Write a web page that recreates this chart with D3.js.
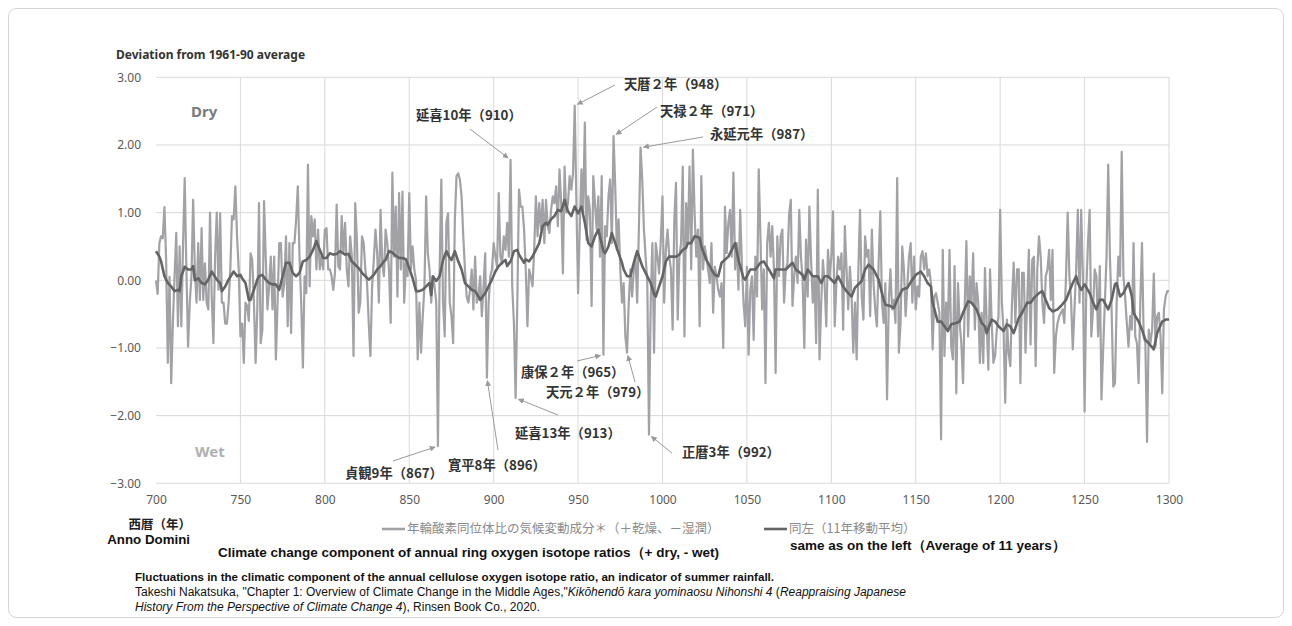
<!DOCTYPE html>
<html>
<head>
<meta charset="utf-8">
<script src="https://cdn.jsdelivr.net/npm/d3@7"></script>
<style>
  body { margin: 0; background: #ffffff; }
</style>
</head>
<body>
<div id="wrapper"></div>
<script>
// annual values, one per year from 700 to 1300
const startYear = 700;
const ringValues = [
  0.0, -0.2, 0.55, 0.65, 0.62, 1.08, 0.3, -1.22, 0.05, -1.52,      // 700
  -0.63, 0.06, 0.7, -0.68, 0.5, -0.68, 0.5, 1.51, 0.15, -0.98,     // 710
  -0.33, 0.06, 1.19, 0.16, -0.33, 0.55, -0.29, 0.77, -0.29, 0.25,  // 720
  -0.33, -0.43, 1.0, -0.24, -0.93, 0.35, 1.0, -0.14, 0.99, -0.33,  // 730
  -0.33, -0.64, -0.64, -0.33, 0.16, 0.95, 0.9, 1.39, 0.65, 0.16,   // 740
  -0.83, -0.64, -1.22, -0.33, -0.38, -0.6, 0.4, 0.3, -0.33, -1.22, // 750
  -0.43, 1.14, -0.93, -0.73, 1.17, 0.35, -0.43, -0.09, 0.35, -0.43,// 760
  0.35, -1.17, -0.33, 0.55, 0.55, -0.24, -0.04, 0.65, -0.68, 0.55, // 770
  -0.78, 0.55, 0.55, 0.9, 1.39, 0.35, -0.33, -1.29, 0.06, -0.19,   // 780
  1.71, -0.09, 0.95, 0.65, 0.9, 0.16, 0.75, 0.16, 0.35, 0.16,      // 790
  0.75, 0.77, 0.16, 0.16, 0.06, -0.14, 0.11, 1.12, 0.2, 0.16,      // 800
  0.95, 0.4, 0.85, 0.16, -0.09, 0.65, 0.35, -1.12, 1.14, 0.6,      // 810
  -0.48, -0.33, 0.65, 0.55, 0.16, -0.04, -0.63, -1.12, -0.09, 0.3, // 820
  0.75, 0.4, -0.33, 1.04, 0.25, 0.06, 0.75, 0.55, 0.16, -0.63,     // 830
  1.59, 0.35, 1.09, -0.24, 1.29, 0.16, 1.31, -0.33, 0.25, 0.06,    // 840
  1.29, 0.16, 0.5, 0.16, 0.0, -1.17, -0.33, -1.07, -0.53, -0.09,   // 850
  1.24, 0.4, 0.16, -0.33, 0.06, -0.09, -0.33, -2.45, 0.16, 1.49,   // 860
  -0.33, -0.83, 0.85, 0.99, -0.33, -0.53, -0.93, 0.9, 1.54, 1.58,  // 870
  1.49, 1.24, 0.65, 0.16, -0.24, -0.33, -0.14, 0.16, -0.43, 0.35,  // 880
  -0.33, -0.24, 0.06, -0.53, -0.09, 0.4, -1.44, -0.33, 0.06, 0.16, // 890
  0.55, 0.35, 0.2, 1.29, 0.35, 0.25, 0.65, 0.45, 0.85, 0.35,       // 900
  1.78, -0.09, -0.63, -1.74, -0.33, 1.34, 1.09, 1.09, 0.75, 0.16,  // 910
  -0.68, 0.16, 0.06, -0.09, 0.45, 1.24, 0.65, 1.14, 0.75, 1.19,    // 920
  0.55, 1.19, 0.8, 0.7, 1.04, 1.24, 1.14, 1.39, 0.8, 1.64,         // 930
  1.14, 0.1, 1.68, 1.0, 1.14, 1.54, 1.34, 1.58, 2.58, 1.14,        // 940
  -0.19, 0.8, 1.64, 1.0, 2.33, 0.6, 1.24, 1.04, -0.38, 1.54,       // 950
  1.14, 0.75, 1.24, 0.35, 1.54, -1.1, 0.8, 0.65, 1.24, 1.49,       // 960
  0.55, 2.13, 1.39, 0.45, 0.9, 0.16, -0.33, -0.04, -0.83, -1.07,   // 970
  -0.33, 0.16, -0.24, 0.16, 0.35, -0.33, 0.75, 1.96, 1.49, 0.75,   // 980
  0.35, -0.04, -2.28, -0.33, 0.55, -1.07, 0.55, 0.35, 0.1, 0.6,    // 990
  1.24, -0.33, 0.45, 0.75, 0.35, 0.16, -0.73, 0.9, 1.44, -0.58,    // 1000
  0.35, 0.55, 1.68, -0.83, 1.14, 0.55, 1.68, 0.16, 1.93, 1.0,      // 1010
  0.35, 0.75, -0.68, 1.54, 0.16, 0.5, 0.35, 0.16, -0.04, 0.55,     // 1020
  -0.48, 0.2, 0.06, -0.14, -0.24, -0.04, -1.0, 1.09, 0.4, 0.85,    // 1030
  1.04, 0.35, 1.59, 0.16, 0.55, -0.14, 1.04, 0.25, -0.33, -0.68,   // 1040
  0.2, -1.1, -0.14, 0.06, -0.88, 0.35, -0.24, 1.64, 0.65, -0.43,   // 1050
  0.16, -1.52, 0.55, 0.85, 0.35, 0.8, 0.16, -1.37, 0.65, 0.06,     // 1060
  0.65, 0.75, -0.33, 0.16, 0.25, 0.99, 1.19, -0.38, 0.06, 0.35,    // 1070
  -0.04, 1.04, 0.35, 0.0, -1.0, 0.6, -0.24, 1.09, 0.3, -0.33,      // 1080
  0.06, -0.93, 1.34, -1.17, -0.33, 0.3, -0.04, -0.68, 0.45, 0.06,  // 1090
  0.35, 1.02, -0.68, -0.04, 0.35, 0.16, 0.4, -0.73, 0.8, 0.16,     // 1100
  -0.43, 0.2, -0.24, -1.07, -0.33, -1.17, 0.16, 1.04, -0.24, -0.58,// 1110
  0.65, 0.35, 0.45, -0.53, 0.75, -0.04, -0.43, -0.68, 0.25, 1.02,  // 1120
  -0.33, -0.63, -0.04, -1.76, -0.33, 0.16, -0.43, -0.29, -0.63, 1.51, // 1130
  -1.07, -0.63, 0.5, 0.16, -0.53, -0.09, 0.35, 0.55, -0.33, 0.35,  // 1140
  -0.43, -0.09, -0.24, 0.35, 0.43, 0.16, 0.4, 0.06, 0.16, -0.04,   // 1150
  -1.02, -0.24, -0.19, -0.33, -0.48, -2.35, 0.45, -1.12, -0.33, -0.73, // 1160
  0.45, -0.98, -1.17, 0.21, -1.67, -0.04, -0.63, -0.93, -1.52, -0.38,  // 1170
  0.58, -0.83, 0.06, -0.33, 0.4, -0.73, -0.04, -0.33, -1.22, -0.48,    // 1180
  -1.22, 0.18, -0.63, -1.32, 0.16, -0.63, -1.22, -1.12, -0.73, -0.53,  // 1190
  1.04, -0.33, -0.73, -1.81, -0.58, -1.07, -1.27, -0.33, 0.26, -0.63,  // 1200
  0.16, 0.16, -1.52, 0.11, 0.11, -1.07, -0.33, 0.45, -0.95, 0.3,       // 1210
  0.35, -1.27, 0.16, 0.65, 0.35, -0.33, -0.63, 0.06, 0.16, 0.45,       // 1220
  -0.29, 0.45, -1.37, -0.83, -0.63, -0.53, -0.48, -0.43, -0.63, 0.06,  // 1230
  1.0, 0.06, -0.29, -1.02, -0.43, 0.16, 1.04, -0.33, 1.04, 0.06,       // 1240
  -1.94, -0.14, 0.55, 1.04, -0.83, -0.43, 0.16, 0.06, -0.83, 0.21,     // 1250
  -1.76, -1.02, -0.33, 0.35, 1.71, 0.35, -0.43, -1.57, -1.52, -0.33,   // 1260
  0.35, 0.06, 1.9, 0.06, -0.24, -0.63, -0.98, -0.53, -0.73, 0.55,      // 1270
  -0.83, -0.93, -1.52, -0.33, 0.55, -0.83, -0.93, -2.39, -0.73, -0.93, // 1280
  -0.73, 0.1, -0.98, -0.53, -0.48, -0.83, -1.67, -0.43, -0.24, -0.16,  // 1290
  -0.16                                                                // 1300
];

// 11-year moving average: [year, value]
const movingAverage = [
  [700, 0.43], [702, 0.35], [703, 0.28], [705, 0.06], [707, -0.04], [709, -0.09],
  [711, -0.16], [713, -0.14], [714, -0.16], [715, 0.06], [717, 0.2], [719, 0.16],
  [721, 0.16], [722, 0.21], [723, 0.0], [725, 0.03], [727, -0.04], [729, -0.06],
  [731, 0.01], [733, 0.13], [736, 0.01], [738, -0.04], [739, -0.16], [741, -0.09],
  [743, 0.01], [746, 0.13], [748, 0.06], [750, 0.08], [751, 0.03], [753, -0.04],
  [755, -0.29], [756, -0.29], [757, -0.21], [758, -0.14], [760, 0.01], [761, 0.06],
  [763, 0.08], [765, 0.01], [767, -0.04], [769, -0.06], [771, -0.06], [773, -0.14],
  [775, 0.06], [777, 0.26], [779, 0.26], [781, 0.11], [783, 0.06], [785, 0.11],
  [787, 0.28], [789, 0.3], [791, 0.35], [793, 0.45], [795, 0.58], [797, 0.45],
  [799, 0.33], [801, 0.33], [803, 0.4], [805, 0.38], [807, 0.39], [809, 0.43],
  [812, 0.38], [814, 0.39], [816, 0.28], [818, 0.23], [820, 0.18], [822, 0.11],
  [824, 0.06], [826, 0.01], [827, 0.03], [829, 0.08], [831, 0.16], [833, 0.21],
  [835, 0.28], [836, 0.3], [838, 0.43], [840, 0.41], [842, 0.36], [844, 0.33],
  [846, 0.33], [848, 0.31], [850, 0.18], [852, 0.03], [854, -0.16], [856, -0.16],
  [858, -0.14], [860, -0.09], [862, -0.04], [863, -0.22], [864, 0.06], [866, -0.01],
  [868, 0.06], [870, 0.3], [872, 0.43], [874, 0.33], [875, 0.3], [877, 0.43],
  [879, 0.28], [881, 0.16], [883, -0.04], [885, -0.09], [887, -0.14], [889, -0.16],
  [891, -0.24], [892, -0.29], [895, -0.19], [897, -0.09], [899, 0.01], [901, 0.13],
  [903, 0.21], [905, 0.26], [907, 0.3], [908, 0.21], [910, 0.28], [911, 0.35],
  [912, 0.43], [914, 0.45], [915, 0.38], [918, 0.26], [919, 0.31], [921, 0.28],
  [923, 0.35], [925, 0.45], [927, 0.55], [929, 0.8], [931, 0.85], [932, 0.82],
  [934, 0.9], [936, 0.95], [938, 1.04], [940, 1.02], [942, 1.19], [944, 1.02],
  [946, 0.95], [948, 1.09], [950, 0.99], [952, 1.09], [954, 0.85], [956, 0.55],
  [958, 0.5], [960, 0.65], [962, 0.75], [965, 0.43], [966, 0.4], [968, 0.5],
  [970, 0.7], [972, 0.55], [974, 0.4], [976, 0.26], [977, 0.16], [979, 0.06],
  [981, 0.06], [983, 0.26], [985, 0.43], [988, 0.21], [990, 0.11], [993, -0.04],
  [995, -0.2], [996, -0.24], [998, -0.09], [1000, 0.06], [1002, 0.28], [1004, 0.35],
  [1008, 0.35], [1010, 0.38], [1012, 0.45], [1014, 0.48], [1015, 0.55], [1017, 0.55],
  [1019, 0.65], [1022, 0.63], [1023, 0.5], [1026, 0.3], [1029, 0.16], [1031, 0.08],
  [1033, 0.06], [1035, 0.26], [1039, 0.35], [1043, 0.55], [1045, 0.3], [1048, 0.03],
  [1049, 0.01], [1052, 0.16], [1055, 0.16], [1058, 0.26], [1060, 0.28], [1063, 0.16],
  [1066, 0.03], [1067, 0.16], [1070, 0.16], [1073, 0.16], [1077, 0.26], [1079, 0.16],
  [1083, 0.08], [1084, 0.01], [1086, 0.16], [1089, 0.06], [1092, 0.06], [1094, -0.04],
  [1096, 0.06], [1098, 0.06], [1102, -0.04], [1104, 0.06], [1107, -0.09], [1109, -0.16],
  [1112, -0.24], [1114, -0.11], [1118, -0.01], [1120, 0.16], [1122, 0.23], [1125, 0.16],
  [1128, 0.01], [1131, -0.29], [1132, -0.36], [1135, -0.38], [1137, -0.41], [1139, -0.29],
  [1142, -0.14], [1145, -0.11], [1148, 0.01], [1150, 0.08], [1153, 0.13], [1155, 0.06],
  [1157, -0.04], [1159, -0.09], [1160, -0.33], [1163, -0.61], [1165, -0.61], [1167, -0.68],
  [1169, -0.75], [1171, -0.65], [1174, -0.63], [1176, -0.61], [1178, -0.48], [1181, -0.31],
  [1183, -0.33], [1186, -0.43], [1189, -0.63], [1191, -0.68], [1192, -0.78], [1195, -0.58],
  [1197, -0.61], [1199, -0.68], [1202, -0.75], [1204, -0.65], [1206, -0.68], [1208, -0.78],
  [1211, -0.56], [1213, -0.48], [1216, -0.33], [1218, -0.33], [1220, -0.26], [1223, -0.19],
  [1225, -0.16], [1227, -0.29], [1229, -0.41], [1231, -0.46], [1234, -0.43], [1236, -0.38],
  [1239, -0.29], [1241, -0.16], [1243, -0.04], [1245, 0.06], [1246, -0.04], [1248, -0.14],
  [1250, -0.06], [1253, -0.19], [1255, -0.33], [1257, -0.43], [1259, -0.29], [1261, -0.29],
  [1264, -0.43], [1266, -0.29], [1268, -0.06], [1269, -0.04], [1271, -0.24], [1273, -0.19],
  [1276, -0.04], [1278, -0.24], [1279, -0.48], [1282, -0.61], [1284, -0.73], [1286, -0.88],
  [1288, -0.93], [1291, -1.02], [1293, -0.78], [1296, -0.61], [1298, -0.58], [1300, -0.58]
];

const yTicks = [-3, -2, -1, 0, 1, 2, 3];
const xTicks = [700, 750, 800, 850, 900, 950, 1000, 1050, 1100, 1150, 1200, 1250, 1300];

// annotated years
const noteYears = [948, 971, 987, 910, 867, 896, 913, 965, 979, 992];
const noteLabels = ["天暦２年（948）", "天禄２年（971）", "永延元年（987）", "延喜10年（910）", "貞観9年（867）",
  "寛平8年（896）", "延喜13年（913）", "康保２年（965）", "天元２年（979）", "正暦3年（992）"];

// where each label sits and where its arrow starts
const noteLayout = [
  {tx: 624, ty: 89, ax: 615, ay: 85},
  {tx: 660, ty: 116, ax: 657, ay: 107},
  {tx: 710, ty: 139, ax: 703, ay: 137},
  {tx: 416, ty: 120, ax: 470, ay: 129},
  {tx: 345, ty: 478, ax: 393, ay: 461},
  {tx: 448, ty: 470, ax: 498, ay: 450},
  {tx: 515, ty: 438, ax: 558, ay: 415},
  {tx: 521, ty: 377, ax: 577, ay: 361},
  {tx: 546, ty: 397, ax: 635, ay: 382},
  {tx: 682, ty: 457, ax: 672, ay: 453}
];

dimensions = {
  width: 1292,
  height: 626,
  plot: {left: 156, right: 1169, top: 77.3, bottom: 483.3}
};

const cjk = "'Noto Sans CJK JP', 'Noto Sans', sans-serif";
const latin = "'Liberation Sans', Arial, sans-serif";

wrapper = d3.select("#wrapper").append("svg")
  .attr("width", dimensions.width)
  .attr("height", dimensions.height);

// outer frame
wrapper.append("rect")
  .attr("x", 8.5).attr("y", 8.5)
  .attr("width", 1275).attr("height", 609)
  .attr("rx", 8)
  .attr("fill", "#ffffff")
  .attr("stroke", "#d4d4d4");

const defs = wrapper.append("defs");
defs.append("marker")
  .attr("id", "arrow")
  .attr("viewBox", "0 0 10 10")
  .attr("refX", 9).attr("refY", 5)
  .attr("markerWidth", 6).attr("markerHeight", 6)
  .attr("orient", "auto")
  .append("path")
  .attr("d", "M0,0 L10,5 L0,10 z")
  .attr("fill", "#9a9a9a");

container = wrapper.append("g");

const p = dimensions.plot;
const xScale = d3.scaleLinear().domain([700, 1300]).range([p.left, p.right]);
const yScale = d3.scaleLinear().domain([-3, 3]).range([p.bottom, p.top]);

// grid lines
container.append("g").selectAll("line")
  .data(yTicks)
  .enter().append("line")
  .attr("x1", p.left).attr("x2", p.right)
  .attr("y1", d => yScale(d)).attr("y2", d => yScale(d))
  .attr("stroke", "#d9d9d9").attr("stroke-width", 1);

container.append("g").selectAll("line")
  .data(xTicks.slice(1))
  .enter().append("line")
  .attr("x1", d => xScale(d)).attr("x2", d => xScale(d))
  .attr("y1", p.top).attr("y2", p.bottom)
  .attr("stroke", "#d9d9d9").attr("stroke-width", 1);

// axes
const axisY = container.append("g")
  .attr("transform", `translate(${p.left}, 0)`)
  .call(d3.axisLeft(yScale).tickValues(yTicks).tickFormat(d3.format(".2f")).tickSize(0).tickPadding(15));
const axisX = container.append("g")
  .attr("transform", `translate(0, ${p.bottom})`)
  .call(d3.axisBottom(xScale).tickValues(xTicks).tickFormat(d3.format("d")).tickSize(0).tickPadding(12));
[axisX, axisY].forEach(a => {
  a.select(".domain").remove();
  a.selectAll("text")
    .attr("fill", "#595959")
    .style("font-family", "'Noto Sans', sans-serif")
    .style("font-size", "12px");
});

// annual series
const annual = ringValues.map((v, i) => [startYear + i, v]);
const line = d3.line().x(d => xScale(d[0])).y(d => yScale(d[1]));

container.append("path")
  .datum(annual)
  .attr("fill", "none")
  .attr("stroke", "#a2a2a6")
  .attr("stroke-width", 2.2)
  .attr("stroke-linejoin", "round")
  .attr("d", line);

// moving average
container.append("path")
  .datum(movingAverage)
  .attr("fill", "none")
  .attr("stroke", "#646464")
  .attr("stroke-width", 2.6)
  .attr("stroke-linejoin", "round")
  .attr("d", line);

// Dry / Wet
container.append("text").attr("x", 191).attr("y", 117)
  .style("font-family", "'Noto Sans', sans-serif").style("font-size", "15px").style("font-weight", "bold")
  .attr("fill", "#7a7a7a").text("Dry");
container.append("text").attr("x", 195).attr("y", 457)
  .style("font-family", "'Noto Sans', sans-serif").style("font-size", "15px").style("font-weight", "bold")
  .attr("fill", "#b0b0b0").text("Wet");

// title
container.append("text").attr("x", 116).attr("y", 59)
  .style("font-family", "'Noto Sans', sans-serif").style("font-size", "12px").style("font-weight", "bold")
  .attr("fill", "#333333").text("Deviation from 1961-90 average");

// annotations
noteYears.forEach((yr, i) => {
  const lay = noteLayout[i];
  const px = xScale(yr), py = yScale(ringValues[yr - startYear]);
  const dx = lay.ax - px, dy = lay.ay - py;
  const len = Math.sqrt(dx * dx + dy * dy);
  container.append("line")
    .attr("x1", lay.ax).attr("y1", lay.ay)
    .attr("x2", px + dx / len * 3).attr("y2", py + dy / len * 3)
    .attr("stroke", "#9a9a9a").attr("stroke-width", 1)
    .attr("marker-end", "url(#arrow)");
  container.append("text")
    .attr("x", lay.tx).attr("y", lay.ty)
    .style("font-family", cjk).style("font-size", "13.3px").style("font-weight", "bold")
    .attr("fill", "#333333")
    .text(noteLabels[i]);
});

// x axis caption
container.append("text").attr("x", 191).attr("y", 529).attr("text-anchor", "end")
  .style("font-family", cjk).style("font-size", "12.5px").style("font-weight", "bold")
  .attr("fill", "#222222").text("西暦（年）");
container.append("text").attr("x", 190).attr("y", 544).attr("text-anchor", "end")
  .style("font-family", latin).style("font-size", "13.3px").style("font-weight", "bold")
  .attr("fill", "#111111").text("Anno Domini");

// legend
const legendItems = [
  {x: 382, label: "年輪酸素同位体比の気候変動成分＊（＋乾燥、－湿潤）", color: "#a2a2a6"},
  {x: 764, label: "同左（11年移動平均）", color: "#646464"}
];
legendItems.forEach(item => {
  container.append("line")
    .attr("x1", item.x).attr("x2", item.x + 23)
    .attr("y1", 529).attr("y2", 529)
    .attr("stroke", item.color).attr("stroke-width", 2.6);
  container.append("text").attr("x", item.x + 25).attr("y", 533)
    .style("font-family", cjk).style("font-size", "12.5px")
    .attr("fill", "#8a8a8a").text(item.label);
});

container.append("text").attr("x", 218).attr("y", 557)
  .style("font-family", latin).style("font-size", "13.5px").style("font-weight", "bold")
  .attr("fill", "#111111").text("Climate change component of annual ring oxygen isotope ratios（+ dry, - wet)");
container.append("text").attr("x", 790).attr("y", 550)
  .style("font-family", latin).style("font-size", "13.5px").style("font-weight", "bold")
  .attr("fill", "#111111").text("same as on the left（Average of 11 years）");

// source caption
const cap = container.append("g")
  .style("font-family", latin).style("font-size", "12px").attr("fill", "#111111");
cap.append("text").attr("x", 135).attr("y", 581).style("font-weight", "bold").style("font-size", "11.6px")
  .text("Fluctuations in the climatic component of the annual cellulose oxygen isotope ratio, an indicator of summer rainfall.");
const line2 = cap.append("text").attr("x", 135).attr("y", 596);
line2.append("tspan").text("Takeshi Nakatsuka, \"Chapter 1: Overview of Climate Change in the Middle Ages,\"");
line2.append("tspan").style("font-style", "italic").text("Kikōhendō kara yominaosu Nihonshi 4");
line2.append("tspan").text(" (");
line2.append("tspan").style("font-style", "italic").text("Reappraising Japanese");
const line3 = cap.append("text").attr("x", 135).attr("y", 611);
line3.append("tspan").style("font-style", "italic").text("History From the Perspective of Climate Change 4");
line3.append("tspan").text("), Rinsen Book Co., 2020.");
</script>
</body>
</html>
